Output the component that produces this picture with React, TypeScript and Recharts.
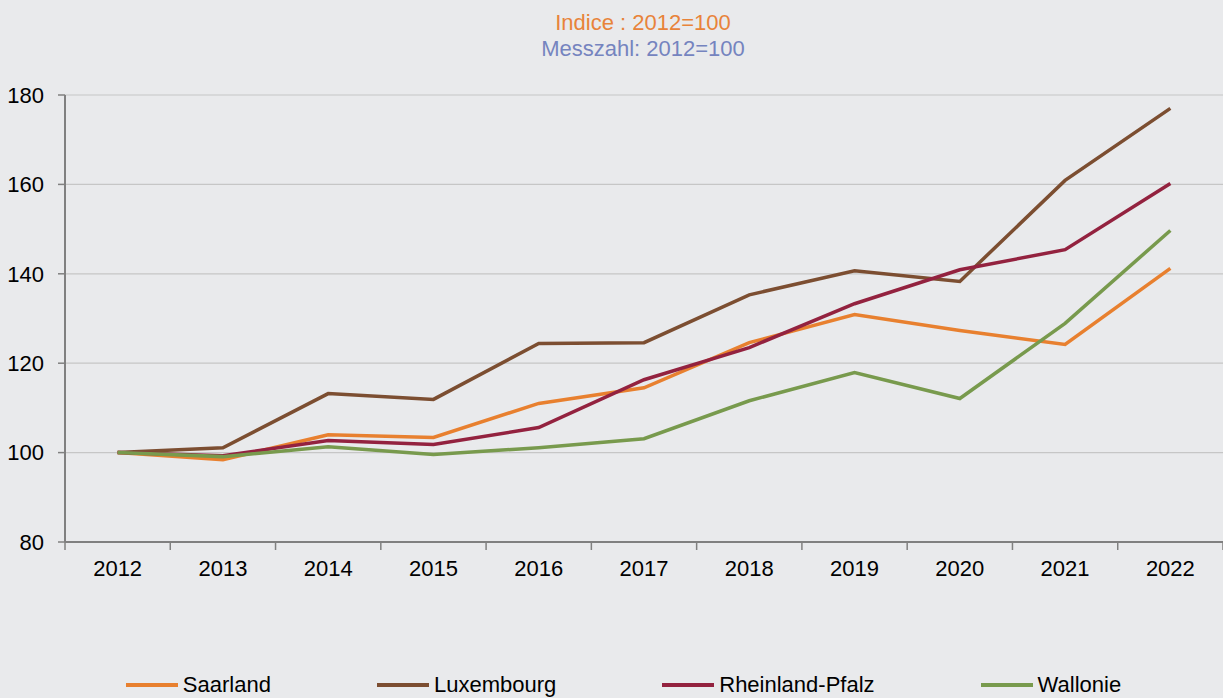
import React from 'react';
import { LineChart, Line, XAxis, YAxis, CartesianGrid, Legend } from 'recharts';

const years = ['2012', '2013', '2014', '2015', '2016', '2017', '2018', '2019', '2020', '2021', '2022'];
const saarland = [100, 98.4, 104.0, 103.4, 111.0, 114.5, 124.6, 130.9, 127.3, 124.2, 141.2];
const luxembourg = [100, 101.1, 113.2, 111.9, 124.4, 124.6, 135.3, 140.7, 138.3, 160.9, 177.0];
const rheinlandPfalz = [100, 99.3, 102.7, 101.8, 105.6, 116.3, 123.5, 133.3, 140.9, 145.4, 160.2];
const wallonie = [100, 99.1, 101.3, 99.6, 101.1, 103.1, 111.6, 117.9, 112.1, 128.9, 149.7];
const yTicks = [80, 100, 120, 140, 160, 180];

const FONT = '"Liberation Sans", Arial, sans-serif';
const AXIS_GRAY = '#808080';

const series = [
  { key: 'Saarland', values: saarland, color: '#e8802f' },
  { key: 'Luxembourg', values: luxembourg, color: '#7c4e31' },
  { key: 'Rheinland-Pfalz', values: rheinlandPfalz, color: '#93223f' },
  { key: 'Wallonie', values: wallonie, color: '#789a4d' },
];

const data = years.map((year, i) => {
  const row: any = { i, year };
  series.forEach(s => { row[s.key] = s.values[i]; });
  return row;
});

// integer ticks carry the year labels, half ticks carry the tick marks between categories
const xTicks: number[] = [];
for (let k = -0.5; k <= years.length - 0.5; k += 0.5) xTicks.push(k);

const XTick = ({ x, y, payload }: any) => {
  const v = payload.value;
  if (Number.isInteger(v)) {
    return (
      <text x={x} y={y + 34} textAnchor="middle" fontSize={22} fontFamily={FONT} fill="#000">
        {years[v]}
      </text>
    );
  }
  return <line x1={x} y1={y} x2={x} y2={y + 8} stroke={AXIS_GRAY} strokeWidth={1.5} />;
};

const LegendContent = () => (
  <div style={{ display: 'flex', justifyContent: 'center', gap: 105, paddingLeft: 23, fontFamily: FONT, fontSize: 22, color: '#000' }}>
    {series.map(s => (
      <div key={s.key} style={{ display: 'flex', alignItems: 'center' }}>
        <svg width={54} height={10} style={{ marginRight: 4 }}>
          <line x1={1} y1={5} x2={53} y2={5} stroke={s.color} strokeWidth={4} />
        </svg>
        <span>{s.key}</span>
      </div>
    ))}
  </div>
);

export default function App() {
  return (
    <div style={{ position: 'absolute', left: 0, top: 0, width: 1223, height: 698, background: '#e9eaec', overflow: 'hidden' }}>
      <div style={{ position: 'absolute', left: 643, top: 10, transform: 'translateX(-50%)', textAlign: 'center', fontFamily: FONT, fontSize: 22, lineHeight: '26px', whiteSpace: 'nowrap' }}>
        <div style={{ color: '#e8833a' }}>Indice : 2012=100</div>
        <div style={{ color: '#7584bf' }}>Messzahl: 2012=100</div>
      </div>
      <LineChart width={1223} height={698} data={data} margin={{ top: 95, right: 0, left: 0, bottom: 106 }}>
        <CartesianGrid vertical={false} stroke="#c6c6c6" strokeWidth={1.2} />
        <XAxis
          dataKey="i"
          type="number"
          domain={[-0.5, years.length - 0.5]}
          ticks={xTicks}
          interval={0}
          allowDecimals
          height={50}
          tickSize={0}
          tickMargin={0}
          tickLine={false}
          axisLine={{ stroke: AXIS_GRAY, strokeWidth: 2 }}
          tick={<XTick />}
        />
        <YAxis
          domain={[80, 180]}
          ticks={yTicks}
          interval={0}
          width={65}
          tickSize={7}
          tickMargin={14}
          axisLine={{ stroke: AXIS_GRAY, strokeWidth: 2 }}
          tickLine={{ stroke: AXIS_GRAY, strokeWidth: 1.5 }}
          tick={{ fill: '#000', fontSize: 22, fontFamily: FONT }}
        />
        <Legend verticalAlign="middle" align="center" wrapperStyle={{ top: 672, left: 0, width: 1223 }} content={<LegendContent />} />
        {series.map(s => (
          <Line
            key={s.key}
            type="linear"
            dataKey={s.key}
            stroke={s.color}
            strokeWidth={3.5}
            dot={false}
            isAnimationActive={false}
          />
        ))}
      </LineChart>
    </div>
  );
}
